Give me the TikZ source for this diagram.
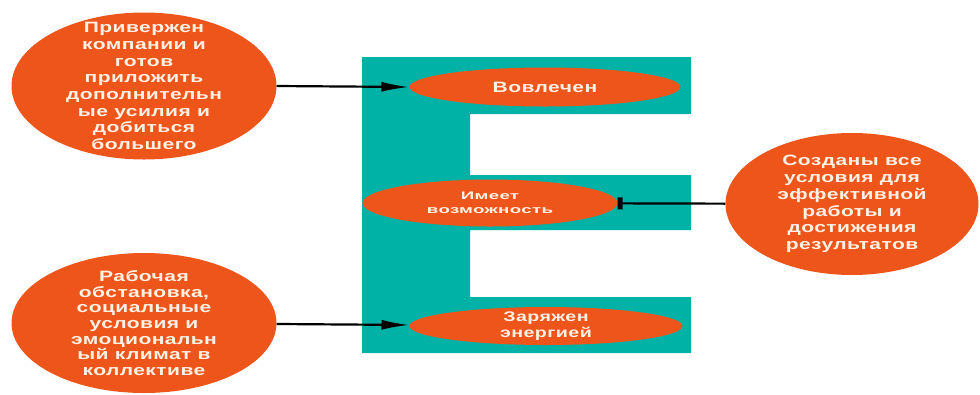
\documentclass[tikz,border=0pt]{standalone}
\usepackage{fontspec}
\usepackage{tikz}
\usetikzlibrary{shapes.geometric, arrows.meta}
\tikzset{>={Latex[length=28pt,width=10pt]}}
\newfontfamily\wideface{Liberation Sans}[FakeStretch=1.4,LetterSpace=3]
\newfontfamily\widerface{Liberation Sans}[FakeStretch=1.7,LetterSpace=3]
\definecolor{blobfill}{RGB}{238,85,27}
\definecolor{letterteal}{RGB}{0,178,166}
\definecolor{creamtext}{RGB}{255,242,228}

\begin{document}
\begin{tikzpicture}[x=1pt, y=-1pt,
  blob/.style={ellipse, fill=blobfill, inner sep=0pt},
  blobtext/.style={text=creamtext, align=center, inner sep=0pt,
    font=\wideface\bfseries\fontsize{15}{16.7}\selectfont},
  link/.style={->, line width=2.2pt, black}
]

% Bounding box
\useasboundingbox (0,0) rectangle (980,394);

% Letter E
\fill[letterteal] (362,57) -- (691,57) -- (691,114) -- (470,114) -- (470,175)
  -- (691,175) -- (691,230) -- (470,230) -- (470,297) -- (691,297)
  -- (691,353) -- (362,353) -- cycle;

% States on the letter
\node[blob, minimum width=271, minimum height=39,
  label={[blobtext]center:Вовлечен}] (involved) at (545,87) {};
\node[blob, minimum width=255, minimum height=47,
  label={[blobtext, font=\widerface\bfseries\fontsize{11}{14}\selectfont]center:Имеет\\возможность}] (enabled) at (490,203) {};
\node[blob, minimum width=273, minimum height=38,
  label={[blobtext, font=\wideface\bfseries\fontsize{14}{15.5}\selectfont]center:Заряжен\\энергией}] (energized) at (546,326) {};

% Causes
\node[blob, minimum width=265, minimum height=147,
  label={[blobtext]center:Привержен\\компании и\\готов\\приложить\\дополнительн\\ые усилия и\\добиться\\большего}] (committed) at (144,86) {};
\node[blob, minimum width=265, minimum height=140,
  label={[blobtext, font=\wideface\bfseries\fontsize{15}{15.7}\selectfont]center:Рабочая\\обстановка,\\социальные\\условия и\\эмоциональн\\ый климат в\\коллективе}] (climate) at (144,323) {};
\node[blob, minimum width=253, minimum height=142,
  label={[blobtext]center:Созданы все\\условия для\\эффективной\\работы и\\достижения\\результатов}] (conditions) at (852,204) {};

% Connectors
\draw[link] (committed.east) -- (involved.west);
\draw[link] (climate) -- (energized);
\draw[line width=2.2pt, -{Rectangle[length=5pt,width=12pt]}] (conditions) -- (enabled);

\end{tikzpicture}
\end{document}
